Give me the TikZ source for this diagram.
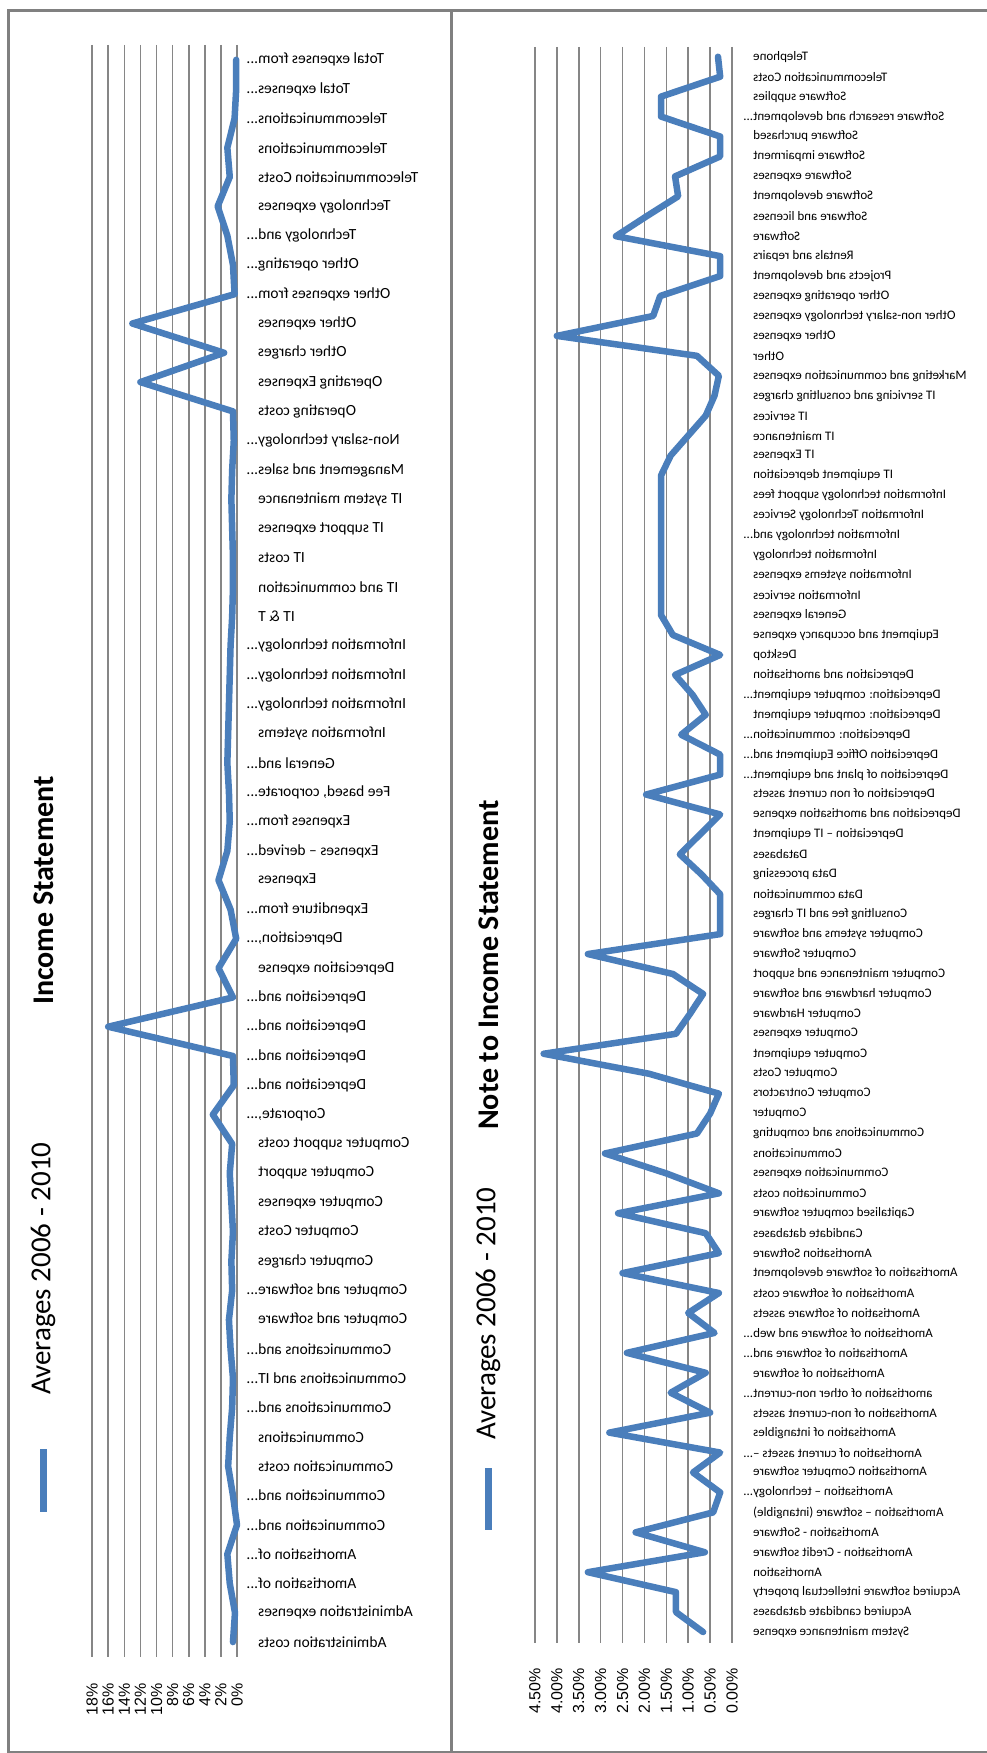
\documentclass[tikz,border=0pt]{standalone}
\usepackage{fontspec}
\setmainfont{Carlito}
\newfontfamily\axisfont{Liberation Sans}
\definecolor{SeriesBlue}{RGB}{74,126,187}
\definecolor{GridGray}{RGB}{134,134,134}
\definecolor{FrameGray}{RGB}{128,128,128}
\newcommand\cut{\rlap{...}}

\begin{document}
\begin{tikzpicture}[x=1pt, y=-1pt]
    \tikzstyle{frame} = [FrameGray, line width=3pt]
    \tikzstyle{gridline} = [GridGray, line width=1.6pt]
    \tikzstyle{series} = [SeriesBlue, line width=6.5pt, line join=round, line cap=round]
    \tikzstyle{catlbl} = [xscale=-1, anchor=east, inner sep=0pt]
    \tikzstyle{valuelbl} = [rotate=90, anchor=east, inner sep=0pt, font=\axisfont\fontsize{16}{18}\selectfont]
    \tikzstyle{subtitle} = [rotate=90, anchor=west, inner sep=0pt, font=\fontsize{29}{32}\selectfont]
    \tikzstyle{title} = [rotate=90, anchor=west, inner sep=0pt, font=\bfseries\fontsize{30}{34}\selectfont]

    \fill[white] (0,0) rectangle (986,1753);
    \useasboundingbox (0,0) rectangle (986,1753);
    \draw[frame] (990,11) -- (8,11) -- (8,1752) -- (990,1752);
    \draw[frame] (451,11) -- (451,1752);

    % income statement
    \foreach \k [evaluate=\k as \p using int(2*\k)] in {0,...,9} {
        \draw[gridline] ({237-16.1*\k},45) -- ({237-16.1*\k},1657);
        \node[valuelbl] (incv\k) at ({237-16.1*\k},1683) {\p\%};
    }
    \foreach \t [count=\i] in {Administration costs, Administration expenses, Amortisation of\cut, Amortisation of\cut,
        Communication and\cut, Communication and\cut, Communication costs, Communications, Communications and\cut,
        Communications and IT\cut, Communications and\cut, Computer and software, Computer and software\cut,
        Computer charges, Computer Costs, Computer expenses, Computer support, Computer support costs, {Corporate,\cut},
        Depreciation and\cut, Depreciation and\cut, Depreciation and\cut, Depreciation and\cut, Depreciation expense,
        {Depreciation,\cut}, Expenditure from\cut, Expenses, Expenses – derived\cut, Expenses from\cut,
        {Fee based, corporate\cut}, General and\cut, Information systems, Information technology\cut,
        Information technology\cut, Information technology\cut, IT \& T, IT and communication, IT costs,
        IT support expenses, IT system maintenance, Management and sales\cut, Non-salary technology\cut,
        Operating costs, Operating Expenses, Other charges, Other expenses, Other expenses from\cut,
        Other operating\cut, Technology and\cut, Technology expenses, Telecommunication Costs, Telecommunications,
        Telecommunications\cut, Total expenses\cut, Total expenses from\cut}
        \node[catlbl, font=\fontsize{15.5}{18}\selectfont] (incc\i) at (258,{1642-29.3*(\i-1)}) {\t};
    \foreach \v [count=\i] in {0.5,0.25,0.9,1.2,0,0.5,1.1,0.9,0.6,0.5,0.8,1.0,0.6,0.7,0.5,0.7,0.9,0.6,3.0,0.4,
        0.5,16.0,0.5,2.3,0.1,0.8,2.3,1.2,0.9,1.0,1.2,1.1,1.0,0.9,0.8,0.6,0.5,0.5,0.6,0.7,
        0.6,0.4,0.5,12.0,1.6,13.0,0.3,0.5,1.2,2.4,0.9,1.2,0.3,0.1,0.1}
        \coordinate (inc\i) at ({237-8.05*\v},{1642-29.3*(\i-1)});
    \draw[series] (inc1) \foreach \i in {2,...,55} {-- (inc\i)};
    \fill[SeriesBlue] (40,1449) rectangle (47,1512);
    \node[subtitle] (incsub) at (43,1395) {Averages 2006 - 2010};
    \node[title] (inctitle) at (44,1005) {Income Statement};

    % note to income statement
    \foreach \k/\p in {0/0.00,1/0.50,2/1.00,3/1.50,4/2.00,5/2.50,6/3.00,7/3.50,8/4.00,9/4.50} {
        \draw[gridline] ({732-21.9*\k},47) -- ({732-21.9*\k},1643);
        \node[valuelbl] (notev\k) at ({732-21.9*\k},1668) {\p\%};
    }
    \foreach \t [count=\i] in {System maintenance expense, Acquired candidate databases,
        Acquired software intellectual property, Amortisation, Amortisation - Credit software,
        Amortisation - Software, Amortisation – software (intangible), Amortisation – technology\cut,
        Amortisation Computer software, Amortisation of current assets –\cut, Amortisation of intangibles,
        Amortisation of non-current assets, amortisation of other non-current\cut, Amortisation of software,
        Amortisation of software and\cut, Amortisation of software and web\cut, Amortisation of software assets,
        Amortisation of software costs, Amortisation of software development, Amortisation Software,
        Candidate databases, Capitalised computer software, Communication costs, Communication expenses,
        Communications, Communications and computing, Computer, Computer Contractors, Computer Costs,
        Computer equipment, Computer expenses, Computer Hardware, Computer hardware and software,
        Computer maintenance and support, Computer Software, Computer systems and software,
        Consulting fee and IT charges, Data communication, Data processing, Databases,
        Depreciation – IT equipment, Depreciation and amortisation expense, Depreciation of non current assets,
        Depreciation of plant and equipment\cut, Depreciation Office Equipment and\cut,
        Depreciation: communication\cut, Depreciation: computer equipment, Depreciation: computer equipment\cut,
        Depreciation and amortisation, Desktop, Equipment and occupancy expense, General expenses,
        Information services, Information systems expenses, Information technology,
        Information technology and\cut, Information Technology Services, Information technology support fees,
        IT equipment depreciation, IT Expenses, IT maintenance, IT services, IT servicing and consulting charges,
        Marketing and communication expenses, Other, Other expenses, Other non-salary technology expenses,
        Other operating expenses, Projects and development, Rentals and repairs, Software, Software and licenses,
        Software development, Software expenses, Software impairment, Software purchased,
        Software research and development\cut, Software supplies, Telecommunication Costs, Telephone}
        \node[catlbl, font=\fontsize{13}{15}\selectfont] (notec\i) at (753,{1632-19.94*(\i-1)}) {\t};
    \foreach \v [count=\i] in {0.66,1.28,1.28,3.29,0.62,2.2,0.43,0.27,0.89,0.27,
        2.8,0.5,1.4,0.6,2.4,0.4,1.0,0.3,2.5,0.3,
        0.6,2.6,0.3,1.5,2.9,0.8,0.5,0.3,1.9,4.3,
        1.28,0.96,0.66,1.35,3.29,0.27,0.27,0.27,0.7,1.19,
        0.73,0.27,1.96,0.27,0.27,1.16,0.6,0.9,1.3,0.27,
        1.35,1.62,1.62,1.62,1.62,1.62,1.62,1.62,1.62,1.4,
        1.0,0.6,0.4,0.3,0.8,4.0,1.8,1.64,0.27,0.27,
        2.65,1.95,1.23,1.3,0.27,0.27,1.62,1.62,0.27,0.32}
        \coordinate (note\i) at ({732-43.8*\v},{1632-19.94*(\i-1)});
    \draw[series] (note1) \foreach \i in {2,...,80} {-- (note\i)};
    \fill[SeriesBlue] (485,1468) rectangle (492,1530);
    \node[subtitle] (notesub) at (488,1440) {Averages 2006 - 2010};
    \node[title] (notetitle) at (489,1130) {Note to Income Statement};
\end{tikzpicture}
\end{document}
